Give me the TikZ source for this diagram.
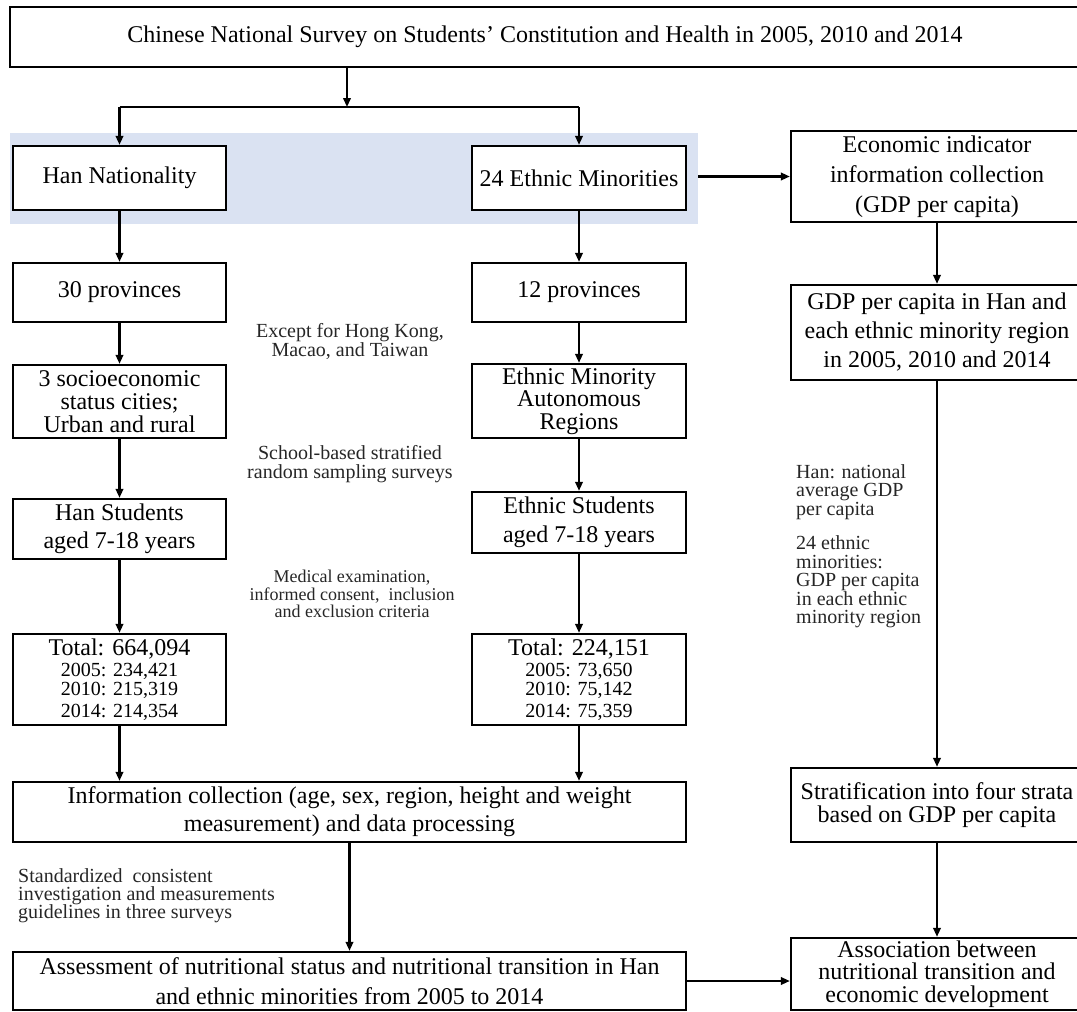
\documentclass[tikz,border=0pt]{standalone}
\usepackage{fontspec}
\setmainfont{Liberation Serif}
\usetikzlibrary{arrows.meta,calc}
\definecolor{bandblue}{RGB}{218,226,242}
\newcommand{\fsz}[2]{\fontsize{#1}{#2}\selectfont}
\begin{document}
\begin{tikzpicture}[x=1pt,y=-1pt,
 box/.style={draw, line width=2.3pt, fill=white, inner sep=0pt, align=center, font=\fsz{24}{28}},
 arr/.style={line width=2.1pt, -{Triangle[length=9pt,width=7.5pt]}},
 conn/.style={line width=2.1pt},
 lab/.style={inner sep=0pt, align=center, font=\fsz{20}{18}, text=black!85}]

\useasboundingbox (0,0) rectangle (1077,1012);

\node[fill=bandblue, minimum width=688pt, minimum height=91pt, inner sep=0pt] (band) at (354,178.5) {};

\node[box, minimum width=1070pt, minimum height=60pt] (top) at (545,37) {Chinese National Survey on Students’ Constitution and Health in 2005, 2010 and 2014};

\node[box, minimum width=213pt, minimum height=64pt] (han) at (119.5,178) {Han Nationality};
\node[box, minimum width=214pt, minimum height=64pt] (eth) at (579,178) {24 Ethnic Minorities};
\node[box, minimum width=292pt, minimum height=91pt, font=\fsz{24}{30}] (econ) at (937,176.5) {Economic indicator\\information collection\\(GDP per capita)};

\node[box, minimum width=213pt, minimum height=59pt] (p30) at (119.5,292.5) {30 provinces};
\node[box, minimum width=214pt, minimum height=59pt] (p12) at (579,292.5) {12 provinces};
\node[box, minimum width=292pt, minimum height=95pt, font=\fsz{24}{29}] (gdp) at (937,332.5) {GDP per capita in Han and\\each ethnic minority region\\in 2005, 2010 and 2014};

\node[box, minimum width=213pt, minimum height=73pt, font=\fsz{24}{23}] (socio) at (119.5,401.5) {3 socioeconomic\\status cities;\\Urban and rural};
\node[box, minimum width=214pt, minimum height=74pt, font=\fsz{24}{22.5}] (auto) at (579,401) {Ethnic Minority\\Autonomous\\Regions};

\node[box, minimum width=213pt, minimum height=60pt, font=\fsz{24}{28.5}] (hanstu) at (119.5,529) {Han Students\\aged 7-18 years};
\node[box, minimum width=214pt, minimum height=61pt, font=\fsz{24}{28.5}] (ethstu) at (579,522.5) {Ethnic Students\\aged 7-18 years};

\node[box, minimum width=213pt, minimum height=91pt, font=\fsz{20}{19}] (hantot) at (119.5,679.5) {{\fsz{24}{24}Total: 664,094}\\[2pt]2005: 234,421\\2010: 215,319\\[3pt]2014: 214,354};
\node[box, minimum width=214pt, minimum height=91pt, font=\fsz{20}{19}] (ethtot) at (579,679.5) {{\fsz{24}{24}Total: 224,151}\\[2pt]2005: 73,650\\2010: 75,142\\[3pt]2014: 75,359};

\node[box, minimum width=673pt, minimum height=60pt, font=\fsz{24}{28}] (info) at (349.5,812) {Information collection (age, sex, region, height and weight\\measurement) and data processing};
\node[box, minimum width=673pt, minimum height=58pt, font=\fsz{24}{30}] (assess) at (349.5,981) {Assessment of nutritional status and nutritional transition in Han\\and ethnic minorities from 2005 to 2014};

\node[box, minimum width=292pt, minimum height=74pt, font=\fsz{24}{23}] (strat) at (937,805) {Stratification into four strata\\based on GDP per capita};
\node[box, minimum width=292pt, minimum height=72pt, font=\fsz{24}{22.5}] (assoc) at (937,974) {Association between\\nutritional transition and\\economic development};

\node[lab, font=\fsz{20}{17.5}] (l1) at (350,341.5) {Except for Hong Kong,\\Macao, and Taiwan};
\node[lab, font=\fsz{20}{19}] (l2) at (350,464.5) {School-based stratified\\random sampling surveys};
\node[lab, font=\fsz{18}{17.5}] (l3) at (352,594) {Medical examination,\\informed consent,~ inclusion\\and exclusion criteria};
\node[lab, align=left, anchor=west, font=\fsz{20}{18.5}] (l4) at (796,546) {Han: national\\average GDP\\per capita\\[16pt]24 ethnic\\minorities:\\GDP per capita\\in each ethnic\\minority region};
\node[lab, align=left, anchor=west, font=\fsz{20}{18.2}] (l5) at (18,896) {Standardized~ consistent\\investigation and measurements\\guidelines in three surveys};

\coordinate (sp) at (347,107);
\draw[arr] (top.south -| sp) -- (sp);
\draw[conn] (han.north |- sp) -- (eth.north |- sp);
\draw[arr] (han.north |- sp) -- (han.north);
\draw[arr] (eth.north |- sp) -- (eth.north);
\draw[arr] (band.east |- econ.west) -- (econ.west);

\draw[arr] (han) -- (p30);
\draw[arr] (p30) -- (socio);
\draw[arr] (socio) -- (hanstu);
\draw[arr] (hanstu) -- (hantot);
\draw[arr] (eth) -- (p12);
\draw[arr] (p12) -- (auto);
\draw[arr] (auto) -- (ethstu);
\draw[arr] (ethstu) -- (ethtot);
\draw[arr] (hantot.south) -- (hantot.south |- info.north);
\draw[arr] (ethtot.south) -- (ethtot.south |- info.north);
\draw[arr] (info) -- (assess);

\draw[arr] (econ) -- (gdp);
\draw[arr] (gdp) -- (strat);
\draw[arr] (strat) -- (assoc);
\draw[arr] (assess.east) -- (assess.east -| assoc.west);
\end{tikzpicture}
\end{document}
